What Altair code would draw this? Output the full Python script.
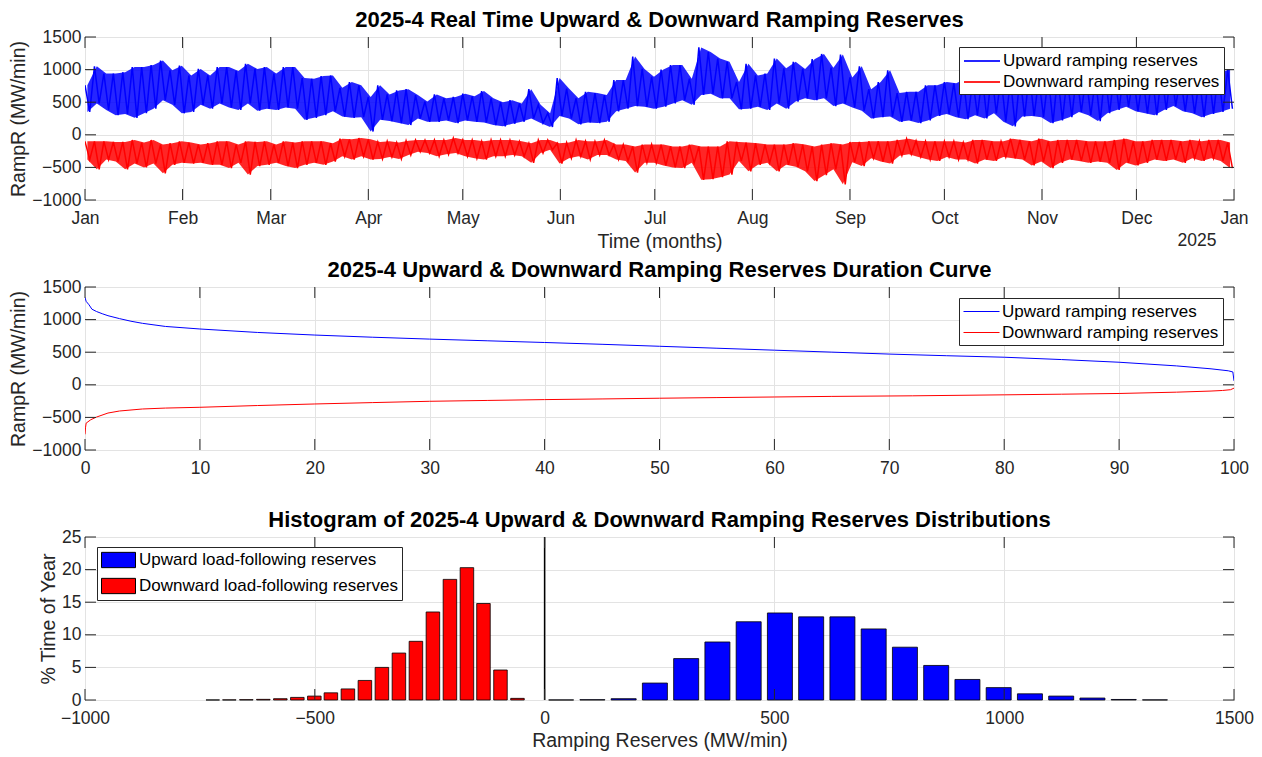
import altair as alt
import pandas as pd

FONT = "Liberation Sans"
BLUE = "#0000ff"
RED = "#ff0000"
AX = "#262626"
GRID = "#e3e3e3"
W = 1149
H = 163
TL = 11

# ---------------- Panel 1: real-time reserves (envelope samples every 3 days) ----------------
step_days = 3
up_hi = [760, 1050, 940, 940, 960, 1040, 1040, 1070, 1140, 990,
         1060, 910, 1010, 910, 1040, 1040, 980, 1090, 1010, 1040,
         940, 1040, 1040, 870, 860, 900, 910, 720, 810, 760,
         580, 760, 620, 680, 700, 610, 510, 620, 560, 580,
         630, 590, 670, 560, 500, 530, 480, 700, 460, 330,
         870, 710, 560, 660, 640, 610, 840, 840, 1200, 1010,
         890, 1000, 1070, 1070, 860, 1340, 1270, 1170, 1120, 810,
         1090, 910, 940, 1170, 1020, 1120, 1010, 1160, 1240, 1030,
         1230, 880, 1050, 700, 810, 990, 640, 660, 660, 760,
         760, 810, 790, 860, 850, 900, 960, 880, 840, 900,
         950, 860, 900, 920, 880, 950, 900, 870, 950, 980,
         1000, 900, 880, 920, 950, 1000, 900, 900, 860, 930,
         960, 1000]
up_lo = [350, 480, 380, 300, 320, 260, 330, 400, 530, 460,
         330, 350, 460, 400, 480, 420, 380, 480, 370, 400,
         380, 420, 400, 230, 260, 300, 360, 280, 260, 270,
         50, 230, 210, 180, 150, 250, 200, 200, 220, 180,
         220, 200, 190, 150, 130, 170, 200, 250, 180, 120,
         290, 250, 160, 190, 180, 200, 360, 400, 440, 430,
         400, 430, 480, 530, 460, 610, 630, 560, 560, 390,
         400, 430, 380, 480, 400, 510, 560, 530, 560, 440,
         480, 420, 370, 250, 270, 280, 200, 220, 180, 220,
         290, 320, 270, 240, 300, 250, 330, 200, 130, 280,
         290, 270, 180, 220, 270, 350, 300, 210, 330, 380,
         430, 360, 330, 300, 380, 440, 360, 330, 270, 320,
         350, 400]
dn_hi = [-100, -100, -100, -110, -110, -80, -120, -80, -150, -130,
         -100, -120, -150, -130, -100, -100, -150, -100, -110, -100,
         -150, -100, -120, -100, -100, -100, -130, -60, -70, -50,
         -70, -110, -100, -120, -90, -80, -80, -80, -80, -50,
         -80, -80, -100, -80, -80, -80, -100, -130, -80, -80,
         -130, -120, -80, -100, -100, -80, -150, -150, -180, -150,
         -150, -150, -180, -180, -150, -180, -180, -180, -100, -110,
         -120, -130, -150, -150, -150, -130, -150, -180, -150, -130,
         -150, -110, -110, -100, -100, -100, -80, -60, -90, -100,
         -100, -100, -100, -120, -80, -80, -100, -100, -60, -80,
         -100, -60, -100, -80, -80, -80, -100, -100, -100, -80,
         -60, -100, -100, -80, -80, -80, -100, -80, -100, -80,
         -80, -120]
dn_lo = [-380, -530, -380, -410, -530, -440, -500, -440, -590, -460,
         -430, -440, -430, -460, -460, -510, -430, -610, -480, -460,
         -430, -480, -510, -460, -430, -460, -410, -330, -380, -330,
         -380, -370, -340, -370, -310, -260, -280, -330, -300, -280,
         -330, -360, -380, -330, -330, -310, -330, -430, -280, -230,
         -440, -360, -330, -380, -310, -310, -380, -400, -580, -430,
         -430, -470, -500, -510, -430, -690, -680, -650, -610, -400,
         -560, -460, -430, -560, -460, -490, -560, -710, -620, -530,
         -760, -420, -480, -360, -410, -440, -320, -300, -340, -380,
         -400, -340, -380, -380, -440, -380, -400, -340, -360, -380,
         -470, -410, -510, -430, -380, -400, -430, -410, -430, -540,
         -430, -470, -430, -380, -400, -380, -430, -360, -400, -360,
         -400, -510]
month_start_day = [0, 31, 59, 90, 120, 151, 181, 212, 243, 273, 304, 334, 365]
month_names = ["Jan", "Feb", "Mar", "Apr", "May", "Jun", "Jul", "Aug",
               "Sep", "Oct", "Nov", "Dec", "Jan"]
year_label = "2025"

# ---------------- Panel 2: duration curves ----------------
dur_up_pct = [0, 0.1, 0.35, 0.6, 1, 1.5, 2, 3, 4, 5, 7, 10, 15, 20, 25, 30, 35, 40, 45,
              50, 55, 60, 65, 70, 75, 80, 85, 90, 95, 98, 99.5, 99.9, 100]
dur_up = [1340, 1280, 1227, 1160, 1124, 1090, 1060, 1015, 975, 943, 895, 856, 803, 763,
          730, 701, 675, 649, 621, 591, 561, 531, 501, 471, 446, 423, 387, 346, 290,
          245, 215, 197, 60]
dur_dn_pct = [0, 0.05, 0.1, 0.5, 1, 2, 3, 5, 7, 10, 15, 20, 25, 30, 35, 40, 45, 50, 55,
              60, 65, 72, 80, 85, 90, 95, 98, 99, 99.7, 100]
dur_dn = [-760, -650, -588, -536, -495, -433, -402, -371, -357, -345, -318, -294, -273,
          -253, -240, -227, -217, -206, -196, -187, -178, -169, -154, -144, -133, -113,
          -96, -87, -75, -51]

# ---------------- Panel 3: histogram ----------------
dn_bin_width = 36.8
dn_centers = [-722, -686, -649, -612, -575, -538, -501, -465, -428, -391, -354, -317,
              -280, -243, -206, -169, -133, -96, -59]
dn_pct = [0.01, 0.02, 0.05, 0.1, 0.2, 0.4, 0.6, 1.1, 1.7, 3.0, 5.0, 7.2, 9.0, 13.5,
          18.5, 20.3, 14.8, 4.6, 0.25]
up_bin_width = 68
up_centers = [36, 104, 172, 240, 308, 376, 444, 512, 580, 648, 716, 784, 852, 920,
              988, 1056, 1124, 1192, 1260, 1328]
up_pct = [0.01, 0.05, 0.2, 2.6, 6.35, 8.9, 12.0, 13.35, 12.75, 12.75, 10.9, 8.1, 5.3,
          3.15, 1.9, 0.95, 0.6, 0.3, 0.08, 0.02]
bar_fill_fraction = 0.8

UP_RR = "Upward ramping reserves"
DN_RR = "Downward ramping reserves"
UP_LF = "Upward load-following reserves"
DN_LF = "Downward load-following reserves"


def y_axis(vals, title, tpad):
    return alt.Axis(values=vals, title=title, format="d", titlePadding=tpad,
                    labelOverlap=False, labelPadding=4, labelSeparation=0)


def x_axis(vals, title, **kw):
    return alt.Axis(values=vals, title=title, labelOverlap=False, labelPadding=9, **kw)


def frame_ticks(xfield, xvals, xscale, xaxis, yfield, yvals, yscale, yaxis):
    xt = pd.DataFrame({xfield: xvals})
    yt = pd.DataFrame({yfield: yvals})
    layers = []
    for y0, y1 in [(H, H - TL), (0, TL)]:
        layers.append(alt.Chart(xt).mark_rule(color=AX, strokeWidth=1).encode(
            x=alt.X(f"{xfield}:Q", scale=xscale, axis=xaxis),
            y=alt.value(y0), y2=alt.value(y1)))
    for x0, x1 in [(0, TL), (W - TL, W)]:
        layers.append(alt.Chart(yt).mark_rule(color=AX, strokeWidth=1).encode(
            y=alt.Y(f"{yfield}:Q", scale=yscale, axis=yaxis),
            x=alt.value(x0), x2=alt.value(x1)))
    return layers


def line_legend(y, stroke_w):
    return alt.Legend(title=None, orient="none", legendX=874, legendY=y,
                      direction="vertical", symbolType="M-1,0H3", symbolSize=324,
                      symbolStrokeWidth=stroke_w, labelOffset=20, rowPadding=3,
                      padding=4)


yvals_r = [-1000, -500, 0, 500, 1000, 1500]
label_expr = ("[" + ",".join(f"'{m}'" for m in month_names) + "][indexof(["
              + ",".join(str(d) for d in month_start_day) + "], datum.value)]")

# ---- top
rows = []
band_rows = []
for name, his, los in [(UP_RR, up_hi, up_lo), (DN_RR, dn_hi, dn_lo)]:
    for i, (h, l) in enumerate(zip(his, los)):
        rows.append({"day": i * step_days, "v": h, "s": name})
        rows.append({"day": i * step_days + step_days / 2, "v": l, "s": name})
        band_rows.append({"day": i * step_days + step_days / 4, "v": l, "v2": h, "s": name})
df_top = pd.DataFrame(rows)
df_band = pd.DataFrame(band_rows)

top_xs = alt.Scale(domain=[0, 365], nice=False, zero=False)
top_ys = alt.Scale(domain=[-1000, 1500], nice=False)
top_xa = x_axis(month_start_day, "Time (months)", labelExpr=label_expr)
top_ya = y_axis(yvals_r, "RampR (MW/min)", 3)
top_color = alt.Color("s:N", scale=alt.Scale(domain=[UP_RR, DN_RR], range=[BLUE, RED]),
                      legend=line_legend(10, 2))

top_band = alt.Chart(df_band).mark_area(opacity=0.85, clip=True).encode(
    x=alt.X("day:Q", scale=top_xs, axis=top_xa),
    y=alt.Y("v:Q", scale=top_ys, axis=top_ya), y2="v2:Q",
    color=top_color, detail="s:N")
top_main = alt.Chart(df_top).mark_line(strokeWidth=1.5, clip=True).encode(
    x=alt.X("day:Q", scale=top_xs, axis=top_xa),
    y=alt.Y("v:Q", scale=top_ys, axis=top_ya),
    color=top_color, detail="s:N")
year_text = alt.Chart(pd.DataFrame({"day": [365]})).mark_text(
    text=year_label, font=FONT, fontSize=17.5, color=AX, dx=-37, baseline="middle"
).encode(x=alt.X("day:Q", scale=top_xs, axis=top_xa), y=alt.value(H + 41))

top = alt.layer(top_band, top_main,
                *frame_ticks("day", month_start_day, top_xs, top_xa,
                             "v", yvals_r, top_ys, top_ya),
                year_text).properties(
    width=W, height=H,
    title=alt.TitleParams("2025-4 Real Time Upward & Downward Ramping Reserves"))

# ---- middle
df_mid = pd.concat([
    pd.DataFrame({"p": dur_up_pct, "v": dur_up, "s": UP_RR}),
    pd.DataFrame({"p": dur_dn_pct, "v": dur_dn, "s": DN_RR}),
])
mid_xvals = list(range(0, 101, 10))
mid_xs = alt.Scale(domain=[0, 100], nice=False)
mid_ys = alt.Scale(domain=[-1000, 1500], nice=False)
mid_xa = x_axis(mid_xvals, None)
mid_ya = y_axis(yvals_r, "RampR (MW/min)", 3)
mid_main = alt.Chart(df_mid).mark_line(strokeWidth=1, clip=True).encode(
    x=alt.X("p:Q", scale=mid_xs, axis=mid_xa),
    y=alt.Y("v:Q", scale=mid_ys, axis=mid_ya),
    color=alt.Color("s:N", scale=alt.Scale(domain=[UP_RR, DN_RR], range=[BLUE, RED]),
                    legend=line_legend(11, 1)),
    detail="s:N",
)
mid = alt.layer(mid_main, *frame_ticks("p", mid_xvals, mid_xs, mid_xa,
                                       "v", yvals_r, mid_ys, mid_ya)).properties(
    width=W, height=H,
    title=alt.TitleParams("2025-4 Upward & Downward Ramping Reserves Duration Curve"))

# ---- histogram
hist_rows = []
for name, centers, pcts, bw in [(UP_LF, up_centers, up_pct, up_bin_width),
                                (DN_LF, dn_centers, dn_pct, dn_bin_width)]:
    for c, p in zip(centers, pcts):
        half = bw * bar_fill_fraction / 2
        hist_rows.append({"x0": c - half, "x1": c + half, "pct": p, "s": name})
df_hist = pd.DataFrame(hist_rows)

xvals_h = [-1000, -500, 0, 500, 1000, 1500]
yvals_h = [0, 5, 10, 15, 20, 25]
h_xs = alt.Scale(domain=[-1000, 1500], nice=False)
h_ys = alt.Scale(domain=[0, 25], nice=False)
h_xa = x_axis(xvals_h, "Ramping Reserves (MW/min)", format="d", titlePadding=5)
h_ya = y_axis(yvals_h, "% Time of Year", 3)
bars = alt.Chart(df_hist).mark_bar(stroke="black", strokeWidth=0.8).encode(
    x=alt.X("x0:Q", scale=h_xs, axis=h_xa),
    x2="x1:Q",
    y=alt.Y("pct:Q", scale=h_ys, axis=h_ya),
    y2=alt.datum(0),
    color=alt.Color("s:N", scale=alt.Scale(domain=[UP_LF, DN_LF], range=[BLUE, RED]),
                    legend=alt.Legend(title=None, orient="none", legendX=12, legendY=10,
                                      direction="vertical",
                                      symbolType="M-1,-0.9H3V0.9H-1Z", symbolSize=289,
                                      symbolStrokeColor="black", symbolStrokeWidth=1,
                                      labelOffset=20, rowPadding=6, padding=4)),
)
zero_line = alt.Chart(pd.DataFrame({"x0": [0]})).mark_rule(color="black", strokeWidth=1.5).encode(
    x=alt.X("x0:Q", scale=h_xs, axis=h_xa))
hist = alt.layer(bars, zero_line, *frame_ticks("x0", xvals_h, h_xs, h_xa,
                                               "pct", yvals_h, h_ys, h_ya)).properties(
    width=W, height=H,
    title=alt.TitleParams("Histogram of 2025-4 Upward & Downward Ramping Reserves Distributions"))

upper = alt.vconcat(top, mid, spacing=6).resolve_scale(
    color="independent", x="independent", y="independent").resolve_legend(color="independent")
chart = alt.vconcat(upper, hist, spacing=31).resolve_scale(
    color="independent", x="independent", y="independent").resolve_legend(color="independent")

chart = chart.properties(
    padding={"left": 0, "top": 0, "right": 0, "bottom": 0}
).configure_view(
    stroke=AX, strokeWidth=1
).configure_axis(
    domain=False, ticks=False, grid=True, gridColor=GRID, gridWidth=1,
    labelFont=FONT, labelFontSize=17.5, labelColor=AX,
    titleFont=FONT, titleFontSize=19.5, titleFontWeight="normal", titleColor=AX,
    labelFlush=False, labelOverlap=False,
).configure_axisX(
    titlePadding=6
).configure_title(
    font=FONT, fontSize=22, fontWeight="bold", color="black", offset=-4
).configure_legend(
    labelFont=FONT, labelFontSize=17, labelColor="black", fillColor="white",
    strokeColor=AX, cornerRadius=0, labelLimit=500
)

chart.save("out.html", embed_options={"renderer": "svg", "actions": False})
